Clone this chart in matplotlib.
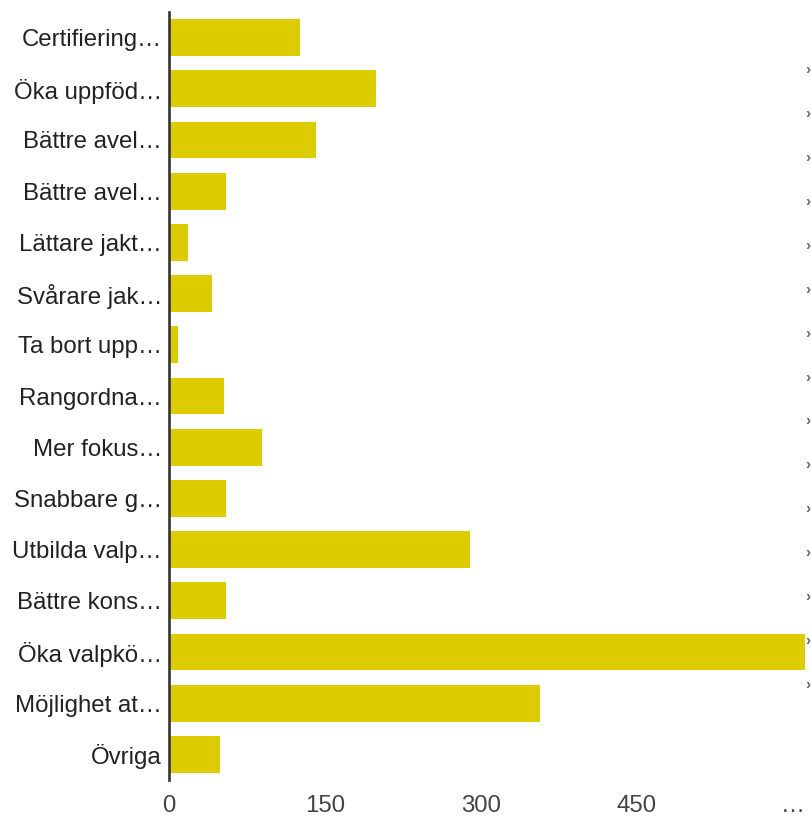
import matplotlib
matplotlib.use("Agg")
import matplotlib.pyplot as plt

categories = [
    "Certifiering…", "Öka uppföd…", "Bättre avel…", "Bättre avel…",
    "Lättare jakt…", "Svårare jak…", "Ta bort upp…", "Rangordna…",
    "Mer fokus…", "Snabbare g…", "Utbilda valp…", "Bättre kons…",
    "Öka valpkö…", "Möjlighet at…", "Övriga",
]
values = [126, 199, 141, 55, 18, 41, 9, 53, 89, 55, 289, 55, 612, 357, 49]
xticks = [0, 150, 300, 450, 600]
xtick_labels = ["0", "150", "300", "450", "…"]

plt.rcParams['font.family'] = ['Liberation Sans', 'DejaVu Sans']

W, H = 811, 818
fig = plt.figure(figsize=(W / 100, H / 100), dpi=100)
left_px, right_px, top_px, bottom_px = 169, 806, 12, 780
ax = fig.add_axes([left_px / W, 1 - bottom_px / H,
                   (right_px - left_px) / W, (bottom_px - top_px) / H])

ypos = list(range(len(categories)))
ax.barh(ypos, values, height=0.72, color="#DCCC00", zorder=2)
ax.set_ylim(len(categories) - 0.5, -0.5)
ax.set_xlim(0, 612.5)

ax.set_yticks(ypos)
ax.set_yticklabels(categories, fontsize=17.3, color="#222222")
ax.set_xticks(xticks)
ax.set_xticklabels(xtick_labels, fontsize=17.3, color="#444444")
ax.tick_params(axis="y", length=0, pad=5)
ax.tick_params(axis="x", length=0, pad=11)

for s in ["top", "right", "bottom"]:
    ax.spines[s].set_visible(False)
ax.spines["left"].set_color("#333333")
ax.spines["left"].set_linewidth(1.9)
ax.spines["left"].set_zorder(3)

# clipped legend markers on the right edge
for i in range(len(categories)):
    ypx = 70 + i * 43.93
    fig.text(805 / W, 1 - ypx / H, "›", fontsize=11, color="#666666",
             fontweight="bold", ha="left", va="center")

fig.savefig("out.png", dpi=100)
